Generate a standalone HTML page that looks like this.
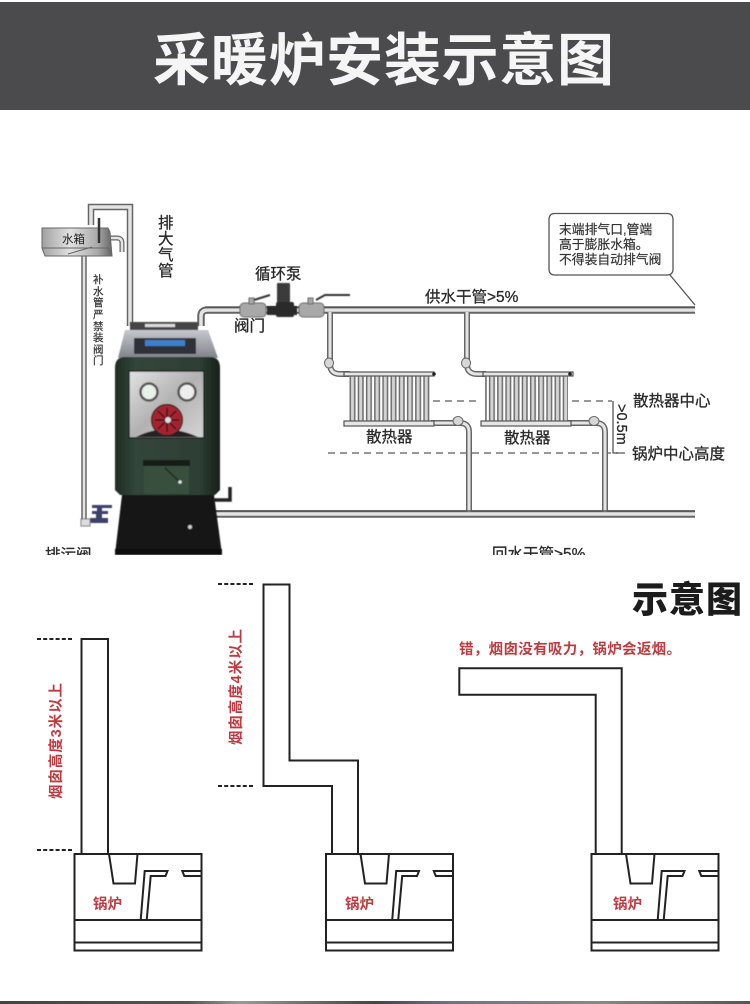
<!DOCTYPE html>
<html lang="zh">
<head>
<meta charset="utf-8">
<title>采暖炉安装示意图</title>
<style>
html,body{margin:0;padding:0;background:#fff;width:750px;height:1004px;overflow:hidden}
svg{display:block}
text{font-family:"Liberation Sans","Noto Sans CJK SC",sans-serif}
.lbl{font-size:15.5px;fill:#2a2a2a;stroke:#2a2a2a;stroke-width:.3}
.red{font-size:14.5px;font-weight:700;fill:#bd3b40}
.cl{fill:none;stroke:#222;stroke-width:2}
.dash{fill:none;stroke:#222;stroke-width:2;stroke-dasharray:4 2.2}
.gd{fill:none;stroke:#777;stroke-width:1.4;stroke-dasharray:7 5}
</style>
</head>
<body>
<svg width="750" height="1004" viewBox="0 0 750 1004" xmlns="http://www.w3.org/2000/svg">
<defs>
<filter id="soft" x="-5%" y="-5%" width="110%" height="110%"><feGaussianBlur stdDeviation="0.5"/></filter>
<linearGradient id="tank" x1="0" y1="0" x2="1" y2="0"><stop offset="0" stop-color="#a0a0a0"/><stop offset=".4" stop-color="#e2e2e2"/><stop offset=".8" stop-color="#a8a8a8"/><stop offset="1" stop-color="#666"/></linearGradient>
<linearGradient id="green" x1="0" y1="0" x2="1" y2="0"><stop offset="0" stop-color="#1f2c24"/><stop offset=".2" stop-color="#33463a"/><stop offset=".8" stop-color="#2e4034"/><stop offset="1" stop-color="#161f1a"/></linearGradient>
<linearGradient id="top" x1="0" y1="0" x2="0" y2="1"><stop offset="0" stop-color="#c4c8cc"/><stop offset="1" stop-color="#80848a"/></linearGradient>
<linearGradient id="steel" x1="0" y1="0" x2="1" y2="1"><stop offset="0" stop-color="#e2e2e2"/><stop offset=".5" stop-color="#b2b2b2"/><stop offset="1" stop-color="#d4d4d4"/></linearGradient>
<linearGradient id="strip" x1="0" y1="0" x2="1" y2="0"><stop offset="0" stop-color="#444"/><stop offset=".25" stop-color="#555"/><stop offset=".32" stop-color="#999"/><stop offset=".5" stop-color="#444"/><stop offset=".6" stop-color="#6c7488"/><stop offset=".8" stop-color="#88897f"/><stop offset="1" stop-color="#555"/></linearGradient>
<pattern id="fins" x="349" y="0" width="8.2" height="10" patternUnits="userSpaceOnUse"><rect width="8.2" height="10" fill="#fff"/><rect x=".5" width="6" height="10" fill="#d4d4d4"/><rect x=".5" width="1.5" height="10" fill="#6e6e6e"/><rect x="5" width="1.5" height="10" fill="#6e6e6e"/></pattern>
<path id="p1" d="M130 326V207H91V225"/>
<path id="p2" d="M84 256V520"/>
<path id="p3" d="M201 326V316Q201 310 208 310H695"/>
<path id="p4" d="M215 514H695"/>
<path id="p5" d="M330 312V364Q330 374 340 374H350"/>
<path id="p6" d="M467 312V364Q467 374 477 374H486"/>
<path id="p7" d="M431 423H460Q469 423 469 432V512"/>
<path id="p8" d="M567 423H596Q605 423 605 432V512"/>
<path id="p9" d="M110 238H117Q122 238 122 243V252"/>
<g id="boil">
<rect class="cl" x="74.5" y="854" width="127" height="96.5"/>
<path class="cl" d="M74.5 920H201.5M74.5 942.5H201.5"/>
<path class="cl" d="M109 854L113.500 883.500H135L137.500 854"/>
<path class="cl" d="M140.700 920L144.700 871H167.500L165.500 876H150.700L146.700 920"/>
<path class="cl" d="M201.500 871H182.300L184.300 876H201.500"/>
</g>
</defs>

<rect width="750" height="1004" fill="#fff"/>
<rect x="0" y="2" width="750" height="108" fill="#4b4b4d"/>
<text x="153" y="80" font-size="57" font-weight="700" fill="#f5f5f5" textLength="461" lengthAdjust="spacing">采暖炉安装示意图</text>

<!-- dashed guides -->
<path class="gd" d="M328 453H625M433 401H481M572 401H612M618 453H626"/>
<path d="M613 401V453H618" fill="none" stroke="#555" stroke-width="1.3"/>

<!-- pipes -->
<g fill="none" stroke="#666">
<use href="#p1" stroke-width="6.500"/><use href="#p2" stroke-width="5.500"/><use href="#p3" stroke-width="7.500"/><use href="#p4" stroke-width="7.500"/><use href="#p5" stroke-width="6"/><use href="#p6" stroke-width="6"/><use href="#p7" stroke-width="6"/><use href="#p8" stroke-width="6"/><use href="#p9" stroke-width="5"/>
</g>
<g fill="none" stroke="#e4e4e4">
<use href="#p1" stroke-width="3.500"/><use href="#p2" stroke-width="2.500"/><use href="#p3" stroke-width="3.500"/><use href="#p4" stroke-width="3.500"/><use href="#p5" stroke-width="3"/><use href="#p6" stroke-width="3"/><use href="#p7" stroke-width="3"/><use href="#p8" stroke-width="3"/><use href="#p9" stroke-width="2.500"/>
</g>
<path d="M205 307.500H695M215 511H695" fill="none" stroke="#555" stroke-width="1.500"/>
<!-- pipe fittings -->
<g fill="#d6d6d6" stroke="#666" stroke-width="1">
<ellipse cx="329" cy="363" rx="4.500" ry="5"/><ellipse cx="466" cy="363" rx="4.500" ry="5"/>
<ellipse cx="458" cy="421" rx="5" ry="4.500"/><ellipse cx="594" cy="421" rx="5" ry="4.500"/>
</g>

<!-- tank -->
<path d="M42 228H108L110 232L112 256H45L42 248Z" fill="url(#tank)" stroke="#666" stroke-width="1"/>
<path d="M42 248H108L112 256M68 254L92 247" fill="none" stroke="#666" stroke-width="1"/>
<path d="M99 218V243" stroke="#333" stroke-width="2.500"/>
<text x="62" y="243" font-size="11.500" fill="#222">水箱</text>

<!-- radiators -->
<rect x="349" y="376" width="82" height="46" fill="url(#fins)"/>
<rect x="485" y="376" width="83" height="46" fill="url(#fins)"/>
<g fill="#e6e6e6" stroke="#555" stroke-width="1.200">
<rect x="344" y="372" width="90" height="4"/><rect x="344" y="421" width="90" height="5"/>
<rect x="483" y="372" width="90" height="4"/><rect x="481" y="421" width="90" height="5"/>
</g>
<circle cx="434" cy="374" r="1.800" fill="#222"/><circle cx="570" cy="374" r="1.800" fill="#222"/>

<!-- valves / pump -->
<g filter="url(#soft)">
<g fill="#a8a8a8" stroke="#666" stroke-width="1">
<rect x="240" y="303" width="26" height="14" rx="4"/><rect x="299" y="303" width="25" height="14" rx="4"/>
<rect x="249" y="298" width="5" height="6"/><rect x="308" y="298" width="5" height="6"/>
</g>
<path d="M254 300L270 295M316 300L325 295H350" fill="none" stroke="#333" stroke-width="2"/>
<rect x="267" y="306" width="30" height="9" fill="#2c2c2c"/>
<rect x="277" y="283" width="13" height="20" rx="1" fill="#3a3a3a"/>
<rect x="276" y="302" width="18" height="15" rx="2" fill="#2a2a2a"/>
<!-- drain valve -->
<path d="M92 505H112V508H102V511H108V514H102V518H108V523H90V518H96V514H92V511H97V508H92Z" fill="#3c4068"/>
<rect x="81" y="519" width="9" height="7" fill="#ddd" stroke="#777"/>
</g>

<!-- boiler -->
<g filter="url(#soft)">
<path d="M122 495H214L222 554H115Z" fill="#141414"/>
<rect x="115" y="549" width="107" height="6" fill="#0c0c0c"/>
<circle cx="190" cy="527" r="2" fill="#ccc"/>
<path d="M214 500H230V487" fill="none" stroke="#222" stroke-width="3.500"/>
<rect x="130" y="322" width="68" height="8" fill="#444"/>
<rect x="145" y="324" width="30" height="3" fill="#ddd"/>
<path d="M125 330H208L218 358H118Z" fill="url(#top)"/>
<rect x="134" y="338" width="62" height="16" fill="#2f3339"/>
<rect x="145" y="340" width="40" height="6" fill="#3f7fc8"/>
<path d="M115 368Q115 357 125 357H210Q220 357 220 368V490L215 495H120L115 490Z" fill="url(#green)"/>
<rect x="129" y="371" width="75" height="67" fill="url(#steel)" stroke="#222" stroke-width="1.500"/>
<path d="M136 437Q165 422 198 437Z" fill="#222"/>
<circle cx="149" cy="392" r="8.500" fill="#e8f0ea" stroke="#555" stroke-width="2.500"/>
<circle cx="187" cy="392" r="8.500" fill="#eee" stroke="#555" stroke-width="2.500"/>
<circle cx="167" cy="420" r="15.500" fill="#a8232d" stroke="#222" stroke-width="1.200"/>
<path d="M167 408V432M155 420H179M158 411L176 429M176 411L158 429" stroke="#2a1a1a" stroke-width="1.500"/>
<circle cx="168" cy="420" r="3" fill="#ddd"/>
<rect x="143" y="460" width="47" height="6" fill="#141c17"/>
<rect x="144" y="466" width="45" height="28" fill="#38503e"/>
<path d="M165 468L180 482" stroke="#222" stroke-width="1.500"/>
<circle cx="180" cy="482" r="1.800" fill="#ddd"/>
</g>

<!-- callout -->
<path d="M555 213.500H667Q673 213.500 673 219.500V269Q673 275 667 275H555Q549 275 549 269V219.500Q549 213.500 555 213.500Z" fill="#fff" stroke="#555" stroke-width="1.300"/>
<path d="M670 275L695 305" fill="none" stroke="#555" stroke-width="1.300"/>
<text x="559" y="234" font-size="12.800" fill="#333" stroke="#333" stroke-width=".2">末端排气口,管端</text>
<text x="559" y="249" font-size="12.800" fill="#333" stroke="#333" stroke-width=".2">高于膨胀水箱。</text>
<text x="559" y="264" font-size="12.800" fill="#333" stroke="#333" stroke-width=".2">不得装自动排气阀</text>

<!-- upper labels -->
<text x="158" y="228" class="lbl">排</text><text x="158" y="244" class="lbl">大</text><text x="158" y="260" class="lbl">气</text><text x="158" y="276" class="lbl">管</text>
<text x="255" y="279" class="lbl">循环泵</text>
<text x="234" y="331" class="lbl">阀门</text>
<text x="425" y="302" class="lbl">供水干管&gt;5%</text>
<text x="366" y="442" class="lbl">散热器</text>
<text x="504" y="443" class="lbl">散热器</text>
<text x="633" y="406" class="lbl">散热器中心</text>
<text x="632" y="459" class="lbl">锅炉中心高度</text>
<text transform="translate(617,404) rotate(90)" class="lbl" style="font-size:14.500px">&gt;0.5m</text>
<text x="45" y="560" class="lbl">排污阀</text>
<text x="492" y="559" class="lbl">回水干管&gt;5%</text>
<g font-size="10.500" fill="#333" stroke="#333" stroke-width=".2">
<text x="93" y="283">补</text><text x="93" y="295">水</text><text x="93" y="306">管</text><text x="93" y="318">严</text><text x="93" y="330">禁</text><text x="93" y="341">装</text><text x="93" y="353">阀</text><text x="93" y="364">门</text>
</g>
<!-- cut edge of upper image -->
<rect x="0" y="555" width="750" height="20" fill="#fff"/>

<!-- chimneys -->
<text x="632" y="612" font-size="36" font-weight="900" fill="#1c1c1c" textLength="110">示意图</text>
<path class="dash" d="M37 639H73M37 850H73M218 584H253M218 786H253"/>
<path class="cl" d="M81.500 854V639H108V854"/>
<path class="cl" d="M332 854V786H263.500V584.500H289.500V760.500H358V854"/>
<path class="cl" d="M595.700 854V694.700H459.300V668.300H621.700V854"/>
<use href="#boil"/>
<use href="#boil" x="251.500"/>
<use href="#boil" x="517"/>

<text class="red" transform="translate(61,799) rotate(-90)" textLength="116">烟囱高度3米以上</text>
<text class="red" transform="translate(241,745) rotate(-90)" textLength="116">烟囱高度4米以上</text>
<text class="red" x="93" y="909">锅炉</text>
<text class="red" x="345" y="909">锅炉</text>
<text class="red" x="613" y="909">锅炉</text>
<text class="red" x="459" y="654" font-size="13.500" textLength="222">错，烟囱没有吸力，锅炉会返烟。</text>

<rect x="0" y="1001" width="750" height="3" fill="url(#strip)"/>
</svg>
</body>
</html>
